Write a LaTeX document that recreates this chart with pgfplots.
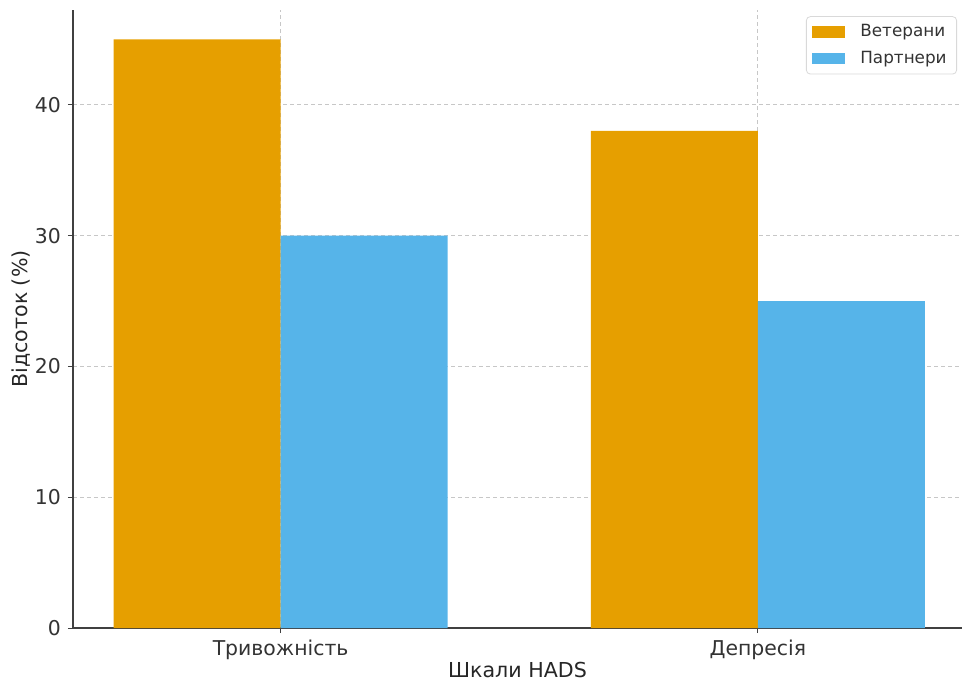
\documentclass[border=0pt]{standalone}
\usepackage{pgfplots}
\pgfplotsset{compat=1.18}
\usepackage{fontspec}
\setmainfont{DejaVu Sans}
\definecolor{vet}{HTML}{E69F00}
\definecolor{par}{HTML}{56B4E9}
\begin{document}
\begin{tikzpicture}
\useasboundingbox (-36.5pt,-26.5pt) rectangle (444.5pt,314pt);
\begin{axis}[
  at={(0pt,0pt)}, anchor=south west,
  scale only axis, width=444.5pt, height=309pt,
  ybar, bar width=0.35,
  xmin=-0.435, xmax=1.4277, ymin=0, ymax=47.25,
  xtick={0,1}, xticklabels={Тривожність,Депресія},
  ytick={0,10,20,30,40},
  /pgf/number format/assume math mode=true,
  grid=major,
  major grid style={dash pattern=on 2pt off 1.5pt, black!22, line width=0.4pt},
  axis x line*=bottom, axis y line*=left,
  axis line style={black!75, line width=0.6pt, -},
  tick align=outside, major tick length=2.5pt,
  tick style={black!75, line width=0.5pt},
  ticklabel style={font=\fontsize{10.2}{12}\selectfont, text=black!80},
  label style={font=\fontsize{10.3}{12}\selectfont, text=black!85},
  xlabel={Шкали HADS}, ylabel={Відсоток (\%)},
  xlabel style={at={(axis description cs:0.5,-0.068)}, anchor=center},
  ylabel style={at={(axis description cs:-0.0585,0.5)}, anchor=center},
  legend style={at={(0.9944,0.990)}, anchor=north east, draw=black!15,
    rounded corners=2pt, fill=white, font=\fontsize{8.4}{10}\selectfont,
    text=black!80, row sep=1.5pt, inner xsep=3pt, inner ysep=2pt},
  legend cell align=left,
  legend image code/.code={\path[#1,draw=none,sharp corners,fill] (0pt,-2.9pt) rectangle (16.5pt,2.9pt);
    \path (22pt,0pt);},
]
\addplot[fill=vet, draw=none, bar shift=-0.175] coordinates {(0,45) (1,38)};
\addplot[fill=par, draw=none, bar shift=0.175] coordinates {(0,30) (1,25)};
\legend{Ветерани, Партнери}
\end{axis}
\end{tikzpicture}
\end{document}
